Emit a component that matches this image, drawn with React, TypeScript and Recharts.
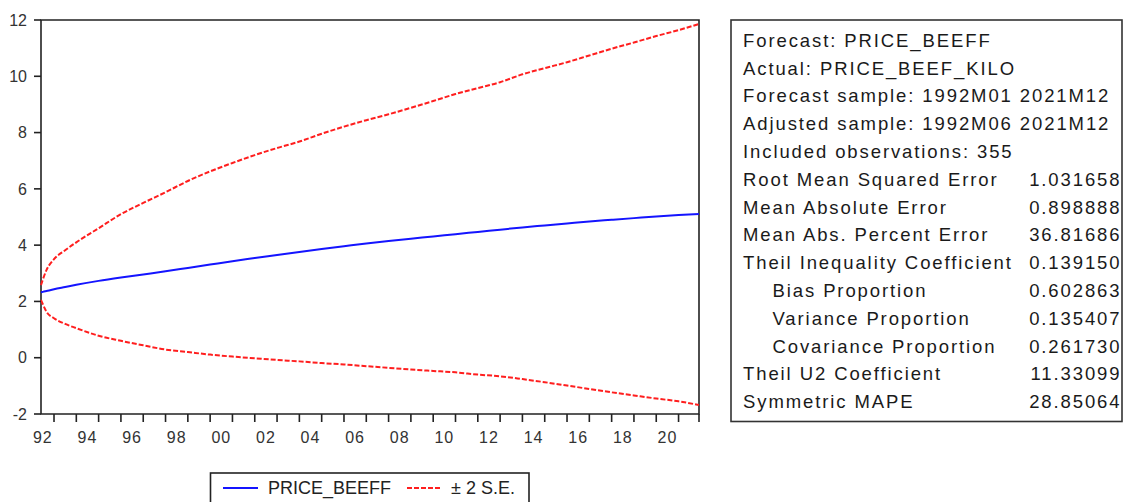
import { LineChart, Line, XAxis, YAxis, ReferenceArea } from "recharts";

const periods = [
  "1992M06", "1992M07", "1992M09", "1993M01", "1993M07", "1994M01", "1995M01", "1996M01",
  "1997M01", "1998M01", "1999M01", "2000M01", "2001M01", "2002M01", "2003M01", "2004M01",
  "2005M01", "2006M01", "2007M01", "2008M01", "2009M01", "2010M01", "2011M01", "2012M01",
  "2013M01", "2014M01", "2015M01", "2016M01", "2017M01", "2018M01", "2019M01", "2020M01",
  "2021M01", "2021M12",
];

const forecast = [
  2.33, 2.34, 2.37, 2.43, 2.51, 2.59, 2.73, 2.85, 2.96, 3.07, 3.19, 3.31, 3.43, 3.54, 3.65, 3.76,
  3.86, 3.96, 4.06, 4.15, 4.23, 4.31, 4.39, 4.47, 4.55, 4.63, 4.7, 4.77, 4.84, 4.9, 4.96, 5.02,
  5.07, 5.11,
];

const upperBand = [
  2.58, 2.78, 3.12, 3.5, 3.82, 4.1, 4.6, 5.1, 5.5, 5.88, 6.28, 6.62, 6.92, 7.2, 7.45, 7.68,
  7.96, 8.21, 8.44, 8.65, 8.88, 9.12, 9.37, 9.58, 9.79, 10.07, 10.29, 10.5, 10.74, 10.98, 11.2, 11.43,
  11.64, 11.86,
];

const lowerBand = [
  2.05, 1.9, 1.63, 1.4, 1.2, 1.05, 0.78, 0.6, 0.44, 0.29, 0.2, 0.11, 0.04, -0.02, -0.08, -0.13,
  -0.19, -0.24, -0.3, -0.36, -0.42, -0.47, -0.52, -0.6, -0.66, -0.76, -0.87, -0.99, -1.11, -1.23, -1.34, -1.45,
  -1.55, -1.68,
];

const yTicks = [-2, 0, 2, 4, 6, 8, 10, 12];
const labelYears = [1992, 1994, 1996, 1998, 2000, 2002, 2004, 2006, 2008, 2010, 2012, 2014, 2016, 2018, 2020];
const markYears = [
  1993, 1994, 1995, 1996, 1997, 1998, 1999, 2000, 2001, 2002, 2003, 2004, 2005, 2006, 2007,
  2008, 2009, 2010, 2011, 2012, 2013, 2014, 2015, 2016, 2017, 2018, 2019, 2020, 2021,
];

const statLabels = [
  "Forecast: PRICE_BEEFF",
  "Actual: PRICE_BEEF_KILO",
  "Forecast sample: 1992M01 2021M12",
  "Adjusted sample: 1992M06 2021M12",
  "Included observations: 355",
  "Root Mean Squared Error",
  "Mean Absolute Error",
  "Mean Abs. Percent Error",
  "Theil Inequality Coefficient",
  "Bias Proportion",
  "Variance Proportion",
  "Covariance Proportion",
  "Theil U2 Coefficient",
  "Symmetric MAPE",
];
const statValues = [
  "", "", "", "", "",
  "1.031658", "0.898888", "36.81686", "0.139150",
  "0.602863", "0.135407", "0.261730", "11.33099", "28.85064",
];
const indented = ["Bias Proportion", "Variance Proportion", "Covariance Proportion"];

const toYear = (p: string) => Number(p.slice(0, 4)) + (Number(p.slice(5)) - 1) / 12;

const data = periods.map((p, i) => ({
  t: toYear(p),
  forecast: forecast[i],
  upper: upperBand[i],
  lower: lowerBand[i],
}));

const xMin = toYear(periods[0]);
const xMax = toYear(periods[periods.length - 1]);
const xTicks = [...labelYears.map((y) => y + 0.5), ...markYears, xMax].sort((a, b) => a - b);

const FONT = '"Liberation Sans", Arial, sans-serif';
const AXIS = "#222";
const BLUE = "#1414ff";
const RED = "#ff1e1e";

function XTick(props: any) {
  const { x, y, payload } = props;
  const v = payload.value as number;
  if (v % 1 === 0.5) {
    return (
      <text x={x} y={y + 29} textAnchor="middle" fontSize={16} letterSpacing={1} fill="#333" fontFamily={FONT}>
        {String(Math.floor(v)).slice(2)}
      </text>
    );
  }
  return <line x1={x} x2={x} y1={y} y2={y + 8} stroke={AXIS} strokeWidth={1.6} />;
}

export default function App() {
  return (
    <div style={{ position: "absolute", left: 0, top: 0, width: 1129, height: 502, background: "#fff", overflow: "hidden" }}>
      <div style={{ position: "absolute", left: 0, top: 0 }}>
        <LineChart width={720} height={502} data={data} margin={{ top: 20, right: 21, bottom: 0, left: 0 }}>
          <XAxis
            dataKey="t"
            type="number"
            domain={[xMin, xMax]}
            ticks={xTicks}
            interval={0}
            height={88}
            axisLine={false}
            tickLine={false}
            tickSize={0}
            tickMargin={0}
            tick={<XTick />}
          />
          <YAxis
            type="number"
            domain={[-2, 12]}
            ticks={yTicks}
            interval={0}
            width={41}
            axisLine={false}
            tickLine={{ stroke: AXIS, strokeWidth: 1.6 }}
            tickSize={7}
            tickMargin={7}
            tick={{ fontSize: 16, fill: "#333", fontFamily: FONT }}
          />
          <ReferenceArea x1={xMin} x2={xMax} y1={-2} y2={12} fill="none" stroke={AXIS} strokeWidth={1.6} ifOverflow="visible" />
          <Line type="monotone" dataKey="upper" stroke={RED} strokeWidth={2} strokeDasharray="5 2" dot={false} isAnimationActive={false} />
          <Line type="monotone" dataKey="lower" stroke={RED} strokeWidth={2} strokeDasharray="5 2" dot={false} isAnimationActive={false} />
          <Line type="monotone" dataKey="forecast" stroke={BLUE} strokeWidth={2} dot={false} isAnimationActive={false} />
        </LineChart>
      </div>
      <svg width={1129} height={502} style={{ position: "absolute", left: 0, top: 0, pointerEvents: "none" }}>
        {/* legend */}
        <rect x={210.5} y={473} width={318.5} height={40} fill="#fff" stroke={AXIS} strokeWidth={1.6} />
        <line x1={223} x2={258} y1={488} y2={488} stroke={BLUE} strokeWidth={2} />
        <text x={268} y={493.5} fontSize={18} fill="#222" fontFamily={FONT}>PRICE_BEEFF</text>
        <line x1={407} x2={442} y1={488} y2={488} stroke={RED} strokeWidth={2} strokeDasharray="5 2" />
        <text x={451} y={493.5} fontSize={18} fill="#222" fontFamily={FONT}>± 2 S.E.</text>
        {/* statistics box */}
        <rect x={731} y={20} width={391} height={401.5} fill="#fff" stroke="#333" strokeWidth={1.6} />
        {statLabels.map((s, i) => (
          <text
            key={s}
            x={indented.includes(s) ? 772.5 : 743}
            y={46.7 + 27.8 * i}
            fontSize={18.5}
            letterSpacing={1.9}
            fill="#1a1a1a"
            fontFamily={FONT}
          >
            {s}
          </text>
        ))}
        {statValues.map((v, i) =>
          v ? (
            <text key={i} x={1121.5} y={46.7 + 27.8 * i} textAnchor="end" fontSize={18.5} letterSpacing={1.9} fill="#1a1a1a" fontFamily={FONT}>
              {v}
            </text>
          ) : null
        )}
      </svg>
    </div>
  );
}
